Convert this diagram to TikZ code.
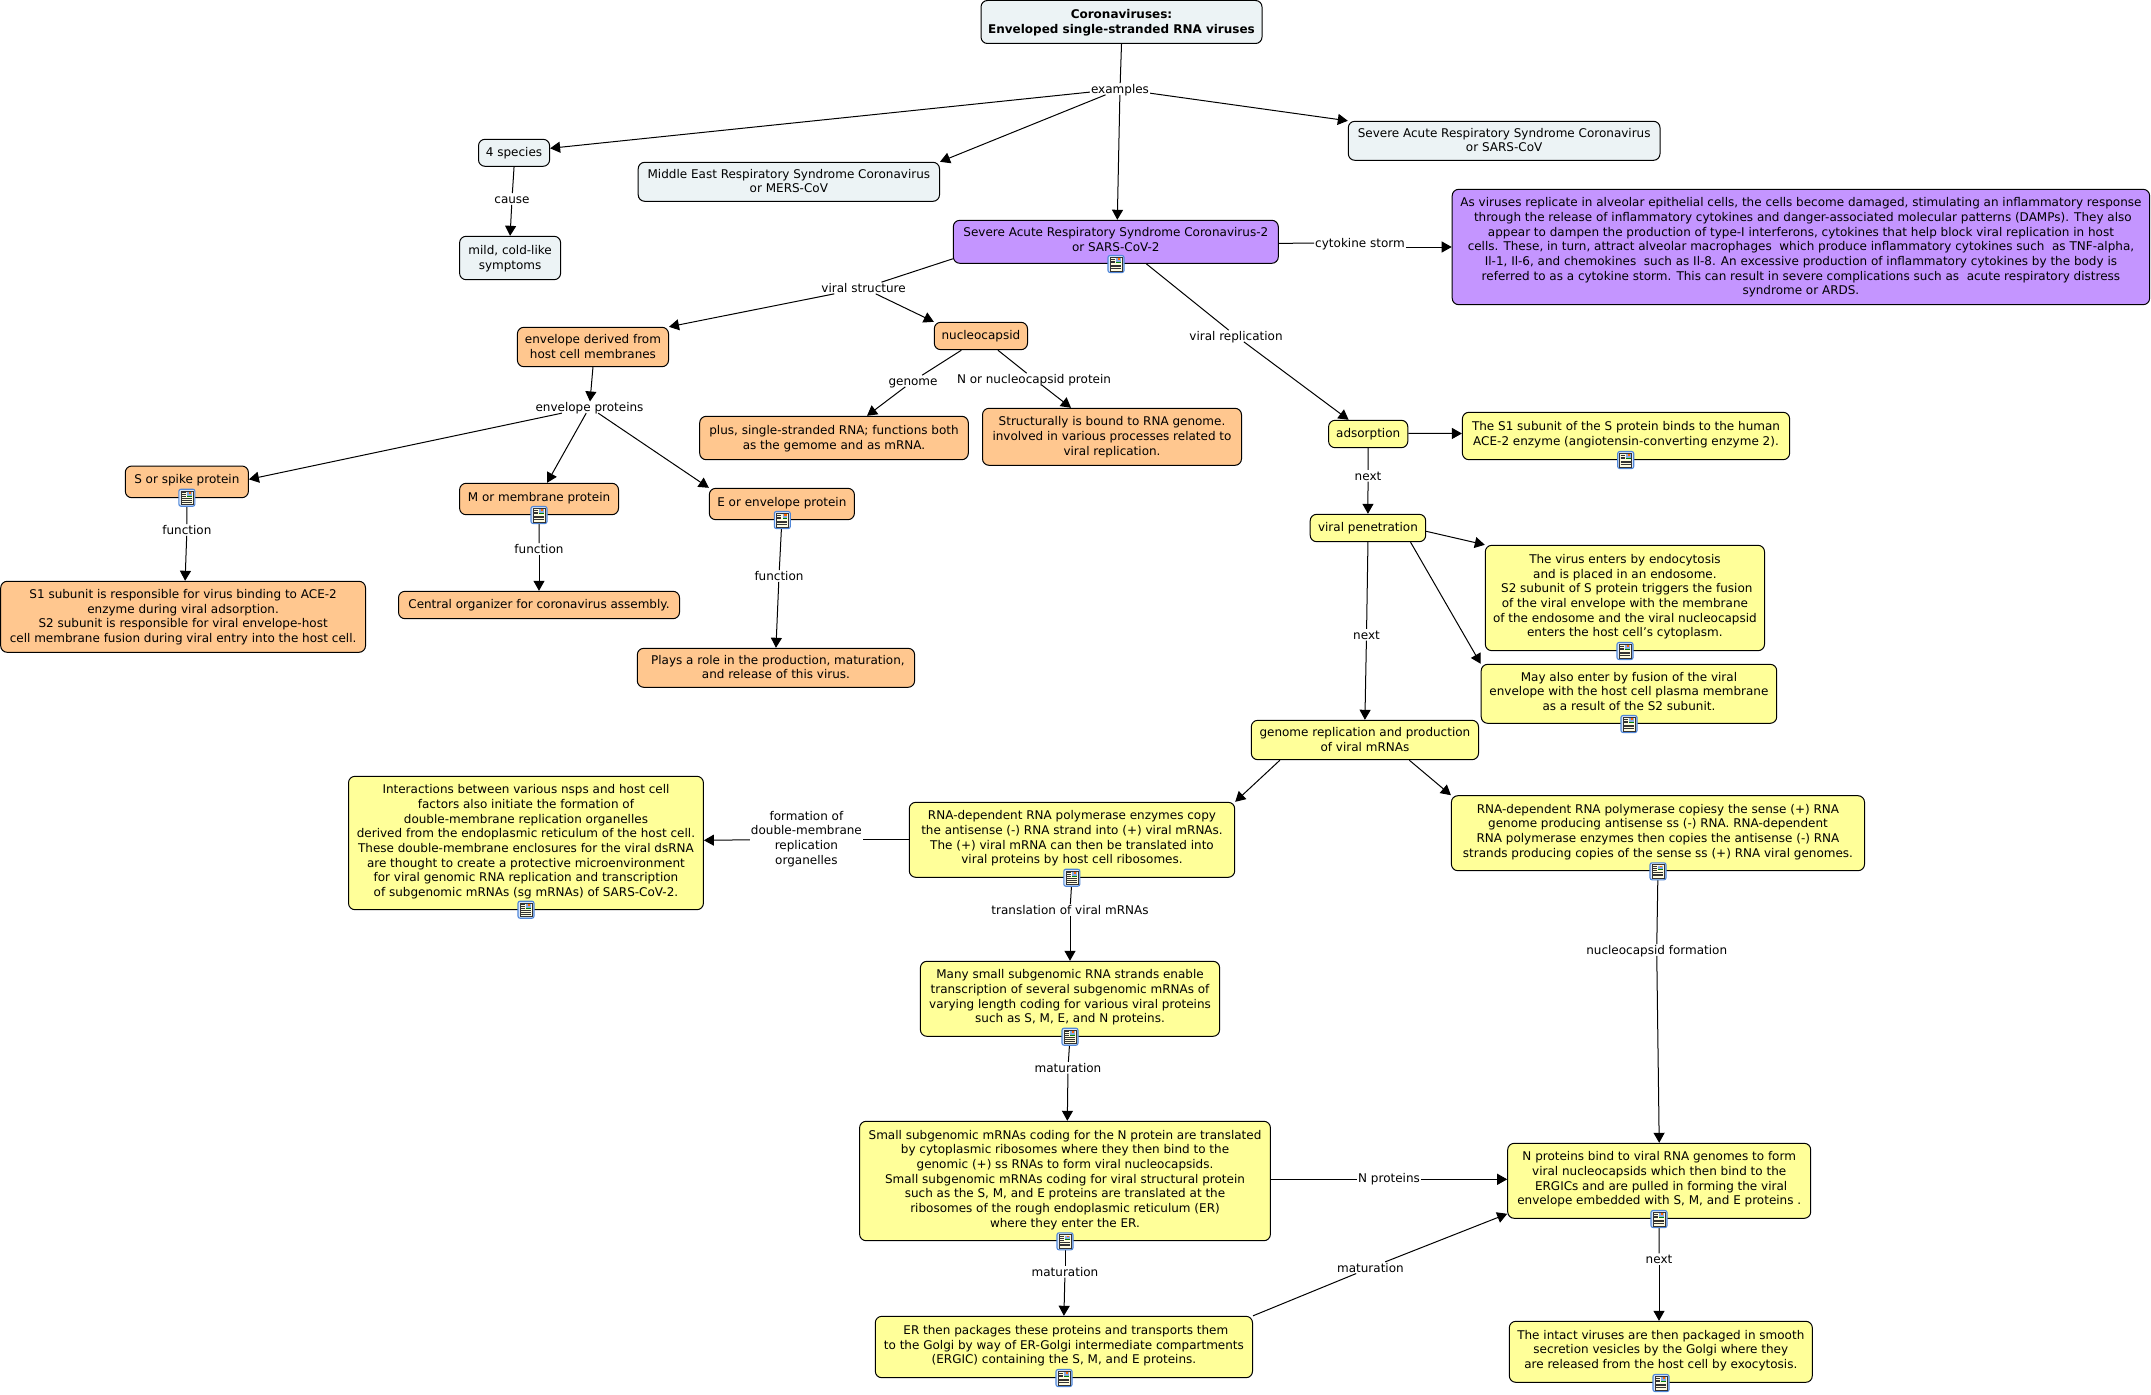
\documentclass[tikz,border=0pt]{standalone}
\usepackage{fontspec}
\setmainfont{DejaVu Sans}
\usetikzlibrary{arrows.meta}
\definecolor{cgrey}{HTML}{ECF3F5}
\definecolor{cpurple}{HTML}{C495FF}
\definecolor{corange}{HTML}{FFC78F}
\definecolor{cyellow}{HTML}{FFFF99}
\definecolor{cblue}{HTML}{4F86D8}
\definecolor{cpale}{HTML}{DCE9FA}
\definecolor{ccream}{HTML}{FFFCE0}
\tikzset{
  base/.style={draw=black,line width=1pt,rounded corners=6.5pt,inner sep=0pt,align=center,
    font=\fontsize{12}{14.67}\selectfont},
  grey/.style={base,fill=cgrey},
  purple/.style={base,fill=cpurple},
  orange/.style={base,fill=corange},
  yellow/.style={base,fill=cyellow},
  ic/.style={text depth=5.1pt},
  noic/.style={text depth=1.5pt},
  lab/.style={inner xsep=1pt,inner ysep=0pt,align=center,text height=10.3pt,text depth=1pt,
    font=\fontsize{12}{14.67}\selectfont},
  lnk/.style={line width=1pt,draw=black},
  arr/.style={lnk,-{Triangle[length=10pt,width=11pt]}},
  docicon/.pic={
    \draw[cblue,line width=1.1pt,fill=cpale,rounded corners=2pt] (-8,-8.5) rectangle (8,8.5);
    \draw[black!80,line width=.6pt,fill=ccream] (-6,-6.8) rectangle (6,6.8);
    \fill[cblue!70] (.4,-5.8) rectangle (5,-1.2);
    \fill[orange!80!red] (2,-5.8) rectangle (4.4,-4);
    \fill[green!50!black] (.4,-2.2) rectangle (5,-1.2);
    \foreach \yy in {-5,-3.2,-1.4} \draw[black!80,line width=.6pt] (-5,\yy) -- (-1.2,\yy);
    \foreach \yy in {.8,2.6,4.4} \draw[black!80,line width=.6pt] (-5,\yy) -- (5,\yy);
  }
}
\newcommand{\bx}[7]{\node[#1,minimum width={#5-#3},minimum height={#6-#4}] (#2) at ({(#3+#5)/2},{(#4+#6)/2}) {#7};}
\begin{document}
\begin{tikzpicture}[x=1pt,y=-1pt]
\useasboundingbox (0,0) rectangle (2151,1394);
% concept boxes
\bx{grey,noic}{root}{981}{0.5}{1262}{43.5}{\textbf{Coronaviruses:}\\\textbf{Enveloped single-stranded RNA viruses}}
\bx{grey,noic}{spec}{478.5}{139.3}{549.6}{166.3}{4 species}
\bx{grey,noic}{mild}{459.6}{236.3}{560.6}{279.7}{mild, cold-like\\symptoms}
\bx{grey,noic}{mers}{638.2}{162.3}{939.5}{201.3}{Middle East Respiratory Syndrome Coronavirus\\or MERS-CoV}
\bx{grey,noic}{sarsone}{1348.3}{121.3}{1660}{160.3}{Severe Acute Respiratory Syndrome Coronavirus\\or SARS-CoV}
\bx{purple,ic}{sarstwo}{953.3}{220.3}{1278.3}{263.3}{Severe Acute Respiratory Syndrome Coronavirus-2\\or SARS-CoV-2}
\bx{purple,noic}{storm}{1452.2}{189.3}{2149.6}{304.7}{As viruses replicate in alveolar epithelial cells, the cells become damaged, stimulating an inflammatory response\\\ through the release of inflammatory cytokines and danger-associated molecular patterns (DAMPs). They also\\appear to dampen the production of type-I interferons, cytokines that help block viral replication in host\\cells. These, in turn, attract alveolar macrophages\ \ which produce inflammatory cytokines such\ \ as TNF-alpha,\\Il-1, Il-6, and chemokines\ \ such as Il-8. An excessive production of inflammatory cytokines by the body is\\referred to as a cytokine storm. This can result in severe complications such as\ \ acute respiratory distress\\syndrome or ARDS.}
\bx{orange,noic}{envd}{517.4}{327.3}{668.5}{366.7}{envelope derived from\\host cell membranes}
\bx{orange,noic}{nuc}{934.3}{322.3}{1027.5}{349.7}{nucleocapsid}
\bx{orange,noic}{plus}{699.7}{416.3}{968.3}{459.7}{plus, single-stranded RNA; functions both\\as the gemome and as mRNA.}
\bx{orange,noic}{struct}{982.5}{408.3}{1241.5}{465.3}{Structurally is bound to RNA genome.\\involved in various processes related to\\viral replication.}
\bx{orange,ic}{spike}{125.3}{466}{248.4}{497.7}{S or spike protein}
\bx{orange,ic}{mem}{459.6}{483.3}{618.5}{514.7}{M or membrane protein}
\bx{orange,ic}{env}{709.3}{488.3}{854.4}{519.7}{E or envelope protein}
\bx{orange,noic}{sdesc}{0.7}{581.3}{365.5}{652.3}{S1 subunit is responsible for virus binding to ACE-2\\enzyme during viral adsorption.\\S2 subunit is responsible for viral envelope-host\\cell membrane fusion during viral entry into the host cell.}
\bx{orange,noic}{central}{398.5}{591.3}{679.5}{618.7}{Central organizer for coronavirus assembly.}
\bx{orange,noic}{plays}{637.3}{648.3}{914.6}{687.3}{\ Plays a role in the production, maturation,\\and release of this virus.}
\bx{yellow,noic}{ads}{1328.6}{420.3}{1407.8}{447.7}{adsorption}
\bx{yellow,ic}{sone}{1462.4}{412.3}{1789.6}{459.7}{The S1 subunit of the S protein binds to the human\\ACE-2 enzyme (angiotensin-converting enzyme 2).}
\bx{yellow,noic}{vp}{1310.2}{514.3}{1425.7}{541.7}{viral penetration}
\bx{yellow,ic}{enters}{1485.3}{545.3}{1764.5}{650.7}{The virus enters by endocytosis\\and is placed in an endosome.\\\ S2 subunit of S protein triggers the fusion\\of the viral envelope with the membrane\\of the endosome and the viral nucleocapsid\\enters the host cell's cytoplasm.}
\bx{yellow,ic}{may}{1481.2}{664.3}{1776.7}{723.3}{May also enter by fusion of the viral\\envelope with the host cell plasma membrane\\as a result of the S2 subunit.}
\bx{yellow,noic}{genome}{1251.3}{720.3}{1478.5}{759.7}{genome replication and production\\of viral mRNAs}
\bx{yellow,ic}{rright}{1451.4}{795.7}{1864.5}{870.7}{RNA-dependent RNA polymerase copiesy the sense (+) RNA\\genome producing antisense ss (-) RNA. RNA-dependent\\RNA polymerase enzymes then copies the antisense (-) RNA\\strands producing copies of the sense ss (+) RNA viral genomes.}
\bx{yellow,ic}{rleft}{909.3}{802.3}{1234.7}{877.3}{RNA-dependent RNA polymerase enzymes copy\\the antisense (-) RNA strand into (+) viral mRNAs.\\The (+) viral mRNA can then be translated into\\viral proteins by host cell ribosomes.}
\bx{yellow,ic}{inter}{348.5}{776.3}{703.4}{909.7}{Interactions between various nsps and host cell\\factors also initiate the formation of\\double-membrane replication organelles\\derived from the endoplasmic reticulum of the host cell.\\These double-membrane enclosures for the viral dsRNA\\are thought to create a protective microenvironment\\for viral genomic RNA replication and transcription\\of subgenomic mRNAs (sg mRNAs) of SARS-CoV-2.}
\bx{yellow,ic}{many}{920.4}{961.3}{1219.6}{1036.3}{Many small subgenomic RNA strands enable\\transcription of several subgenomic mRNAs of\\varying length coding for various viral proteins\\such as S, M, E, and N proteins.}
\bx{yellow,ic}{small}{859.6}{1121.3}{1270.4}{1240.7}{Small subgenomic mRNAs coding for the N protein are translated\\by cytoplasmic ribosomes where they then bind to the\\genomic (+) ss RNAs to form viral nucleocapsids.\\Small subgenomic mRNAs coding for viral structural protein\\such as the S, M, and E proteins are translated at the\\ribosomes of the rough endoplasmic reticulum (ER)\\where they enter the ER.}
\bx{yellow,ic}{er}{875.3}{1316.3}{1252.5}{1377.7}{\ ER then packages these proteins and transports them\\to the Golgi by way of ER-Golgi intermediate compartments\\(ERGIC) containing the S, M, and E proteins.}
\bx{yellow,ic}{nbox}{1507.7}{1143.3}{1810.7}{1218.3}{N proteins bind to viral RNA genomes to form\\viral nucleocapsids which then bind to the\\\ ERGICs and are pulled in forming the viral\\envelope embedded with S, M, and E proteins .}
\bx{yellow,ic}{intact}{1509.3}{1321.3}{1812.3}{1382.3}{The intact viruses are then packaged in smooth\\secretion vesicles by the Golgi where they\\are released from the host cell by exocytosis.}
% link labels
\node[lab] (ex) at (1120,89) {examples};
\node[lab] (cause) at (512,199) {cause};
\node[lab] (vs) at (863.6,288) {viral structure};
\node[lab] (vr) at (1236,336) {viral replication};
\node[lab] (cyt) at (1360,243) {cytokine storm};
\node[lab] (envp) at (589.5,407.3) {envelope proteins};
\node[lab] (fs) at (186.9,530) {function};
\node[lab] (fm) at (539,549) {function};
\node[lab] (fe) at (779,576) {function};
\node[lab] (gen) at (913,381) {genome};
\node[lab] (nor) at (1034,379) {N or nucleocapsid protein};
\node[lab] (nexta) at (1368,475.7) {next};
\node[lab] (nextb) at (1366.5,634.7) {next};
\node[lab,text height=,text depth=] (form) at (806.4,839) {formation of\\double-membrane\\replication\\organelles};
\node[lab] (trans) at (1070,910) {translation of viral mRNAs};
\node[lab] (mata) at (1068,1067.7) {maturation};
\node[lab] (matb) at (1065,1271.7) {maturation};
\node[lab] (matc) at (1370.4,1267.7) {maturation};
\node[lab] (np) at (1389,1178) {N proteins};
\node[lab] (ncf) at (1656.7,950) {nucleocapsid formation};
\node[lab] (nextc) at (1659,1259.3) {next};
% connectors
\draw[lnk] (root.south) -- (ex);
\draw[arr] (ex) -- ([yshift=4.5pt]spec.east);
\draw[arr] (ex) -- (mers.north east);
\draw[arr] (ex) -- ([xshift=1.5pt]sarstwo.north);
\draw[arr] (ex) -- (sarsone.north west);
\draw[lnk] (spec.south) -- (cause);
\draw[arr] (cause) -- (mild.north);
\draw[lnk] ([yshift=5pt]sarstwo.south west) -- (vs);
\draw[arr] (vs) -- (envd.north east);
\draw[arr] (vs) -- (nuc.north west);
\draw[lnk] ([xshift=30.5pt]sarstwo.south) -- (vr);
\draw[arr] (vr) -- ([xshift=-19.6pt]ads.north);
\draw[lnk] ([yshift=-1.5pt]sarstwo.east) -- (cyt);
\draw[arr] ([yshift=-4pt]cyt.east) -- (storm.west);
\draw[arr] (envd.south) -- (envp);
\draw[arr] (envp) -- ([yshift=2.5pt]spike.east);
\draw[arr] (envp) -- ([xshift=8pt]mem.north);
\draw[arr] (envp) -- (env.north west);
\draw[lnk] (spike.south) -- (fs);
\draw[arr] (fs) -- ([xshift=2pt]sdesc.north);
\draw[lnk] (mem.south) -- (fm);
\draw[arr] (fm) -- (central.north);
\draw[lnk] ([xshift=-19.5pt]nuc.south) -- (gen);
\draw[arr] (gen) -- ([xshift=33pt]plus.north);
\draw[lnk] ([xshift=17pt]nuc.south) -- (nor);
\draw[arr] (nor) -- ([xshift=-41pt]struct.north);
\draw[lnk] (env.south) -- (fe);
\draw[arr] (fe) -- (plays.north);
\draw[arr] ([yshift=.7pt]ads.east) -- ([yshift=2.5pt]sone.west);
\draw[lnk] (ads.south) -- (nexta);
\draw[arr] (nexta) -- (vp.north);
\draw[lnk] (vp.south) -- (nextb);
\draw[arr] (nextb) -- (genome.north);
\draw[arr] ([yshift=-3.3pt]vp.east) -- (enters.north west);
\draw[arr] ([xshift=42.6pt]vp.south) -- (may.north west);
\draw[arr] ([xshift=44.4pt]genome.south) -- (rright.north west);
\draw[arr] ([xshift=-85pt]genome.south) -- (rleft.north east);
\draw[lnk] (rleft.west) -- ([yshift=-.8pt]form.east);
\draw[arr] ([yshift=-.8pt]form.west) -- ([yshift=2.7pt]inter.east);
\draw[lnk] (rleft.south) -- (trans);
\draw[arr] (trans) -- (many.north);
\draw[lnk] (many.south) -- (mata);
\draw[arr] (mata) -- ([xshift=2.3pt]small.north);
\draw[lnk] (small.south) -- (matb);
\draw[arr] (matb) -- (er.north);
\draw[lnk] ([yshift=1.7pt]small.east) -- ([yshift=-1.3pt]np.west);
\draw[arr] ([yshift=-1.3pt]np.east) -- ([yshift=1.5pt]nbox.west);
\draw[lnk] (er.north east) -- (matc);
\draw[arr] (matc) -- ([yshift=5pt]nbox.south west);
\draw[lnk] (rright.south) -- (ncf);
\draw[arr] (ncf) -- (nbox.north);
\draw[lnk] (nbox.south) -- (nextc);
\draw[arr] (nextc) -- ([xshift=-1.8pt]intact.north);
% resource icons
\pic at (1116,264) {docicon};
\pic at (1625.7,460) {docicon};
\pic at (1625,651) {docicon};
\pic at (1629,724) {docicon};
\pic at (1658,871.3) {docicon};
\pic at (1071.8,877.7) {docicon};
\pic at (1070,1036.7) {docicon};
\pic at (1065,1241.3) {docicon};
\pic at (1064,1378) {docicon};
\pic at (1659,1219) {docicon};
\pic at (1661,1383) {docicon};
\pic at (526,909.7) {docicon};
\pic at (186.9,497.7) {docicon};
\pic at (539,515) {docicon};
\pic at (782.3,520) {docicon};
\end{tikzpicture}
\end{document}
